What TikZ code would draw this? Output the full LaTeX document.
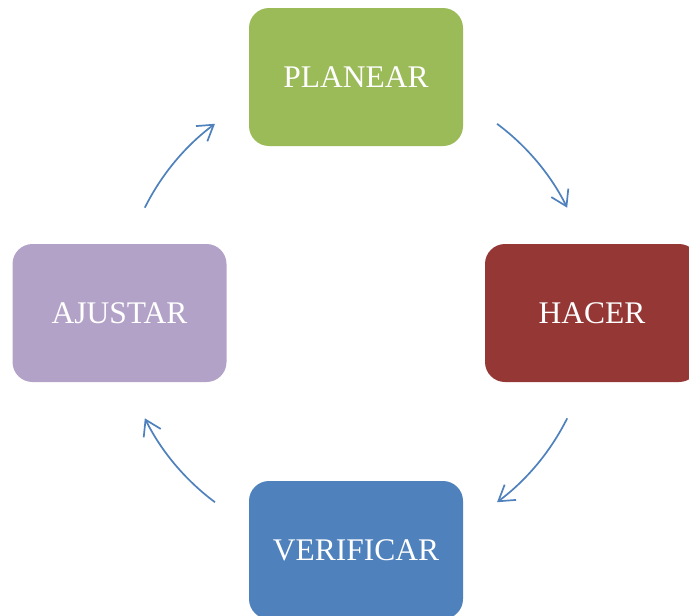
\documentclass[tikz,border=0pt]{standalone}
\usepackage{fontspec}
\setmainfont{Liberation Serif}
\usetikzlibrary{arrows.meta}
\definecolor{stgreen}{HTML}{9BBB59}
\definecolor{stred}{HTML}{953735}
\definecolor{stpurple}{HTML}{B3A2C7}
\definecolor{stblue}{HTML}{4F81BD}
\tikzset{
  stagebox/.style={rectangle, rounded corners=20pt, minimum width=214pt, minimum height=138pt,
    inner sep=0pt, text=white, font=\fontsize{31.5}{38}\selectfont},
  cyclearrow/.style={draw=stblue, line width=1.7pt,
    -{Straight Barb[length=15pt, width=19pt, line width=1.7pt]}}
}
\begin{document}
\begin{tikzpicture}[x=1pt, y=1pt]
  \useasboundingbox (0,0) rectangle (689,-616);
  \begin{scope}
    \clip (0,0) rectangle (689,-616);
    \node[stagebox, fill=stgreen]  (plan) at (356,-77)   {PLANEAR};
    \node[stagebox, fill=stred]    (do)   at (592,-313)  {HACER};
    \node[stagebox, fill=stpurple] (act)  at (119.5,-313) {AJUSTAR};
    \node[stagebox, fill=stblue]   (check) at (356,-550) {VERIFICAR};
  \end{scope}
  % cycle arrows on a circle around the centre
  \coordinate (c) at (356,-313);
  \path (c) ++(53.3:236)   coordinate (s1);
  \path (c) ++(-26.5:236)  coordinate (s2);
  \path (c) ++(-126.7:236) coordinate (s3);
  \path (c) ++(153.5:236)  coordinate (s4);
  \draw[cyclearrow] (s1) arc[start angle=53.3,   end angle=26.5,   radius=236];
  \draw[cyclearrow] (s2) arc[start angle=-26.5,  end angle=-53.3,  radius=236];
  \draw[cyclearrow] (s3) arc[start angle=-126.7, end angle=-153.5, radius=236];
  \draw[cyclearrow] (s4) arc[start angle=153.5,  end angle=126.7,  radius=236];
\end{tikzpicture}
\end{document}
